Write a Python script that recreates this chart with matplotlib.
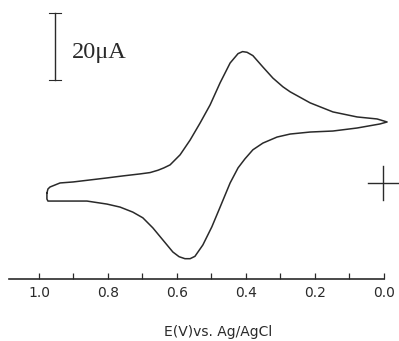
import matplotlib
matplotlib.use("Agg")
import matplotlib.pyplot as plt
import numpy as np

# cathodic sweep (upper branch), 0.98 V -> 0.0 V ; current in uA
E_fwd = [0.977, 0.974, 0.968, 0.939, 0.901, 0.852, 0.803, 0.757, 0.707, 0.678,
         0.655, 0.638, 0.620, 0.591, 0.562, 0.533, 0.504, 0.475, 0.446, 0.423,
         0.410, 0.397, 0.380, 0.351, 0.322, 0.293, 0.272, 0.214, 0.148, 0.078,
         0.020, -0.009]
I_fwd = [-3.0, -1.8, -1.2, 0.0, 0.3, 0.9, 1.5, 2.1, 2.7, 3.1,
         3.8, 4.5, 5.4, 8.4, 12.8, 17.9, 23.3, 29.9, 35.8, 38.6,
         39.2, 39.0, 38.0, 34.6, 31.3, 28.7, 27.2, 23.9, 21.2, 19.7,
         19.1, 18.2]

# anodic sweep (lower branch), 0.0 V -> 0.98 V
E_rev = [-0.009, 0.012, 0.078, 0.148, 0.214, 0.272, 0.310, 0.351, 0.380, 0.403,
         0.423, 0.446, 0.475, 0.499, 0.525, 0.548, 0.562, 0.577, 0.594, 0.612,
         0.641, 0.670, 0.699, 0.728, 0.765, 0.803, 0.861, 0.974, 0.977, 0.977]
I_rev = [18.2, 17.6, 16.4, 15.5, 15.2, 14.6, 13.7, 11.9, 9.9, 7.2,
         4.5, 0.0, -7.2, -13.1, -18.5, -21.9, -22.6, -22.6, -22.0, -20.6,
         -17.0, -13.4, -10.4, -8.7, -7.2, -6.3, -5.4, -5.4, -4.8, -3.0]

scale_uA = 20
scale_top = 50.7
scale_E = 0.954
major_ticks = [1.0, 0.8, 0.6, 0.4, 0.2, 0.0]
tick_labels = ["1.0", "0.8", "0.6", "0.4", "0.2", "0.0"]
minor_ticks = [0.9, 0.7, 0.5, 0.3, 0.1]

ink = "#2a2a2a"

fig = plt.figure(figsize=(3.99, 3.41), dpi=100)
ax = fig.add_axes([0, 62 / 341, 1, 279 / 341])

E = np.concatenate([E_fwd, E_rev])
I = np.concatenate([I_fwd, I_rev])
ax.plot(E, I, color=ink, lw=1.1, solid_joinstyle="round", solid_capstyle="round")

# 20 uA scale bar
ax.plot([scale_E, scale_E], [scale_top - scale_uA, scale_top], color=ink, lw=1.0)
for yy in (scale_top - scale_uA, scale_top):
    ax.plot([scale_E + 0.016, scale_E - 0.018], [yy, yy], color=ink, lw=0.8)
ax.text(0.905, 37.3, "20\u03bcA", family="Liberation Serif",
        fontsize=17.5, color=ink, va="baseline", ha="left")

# zero current cross
ax.plot([0.046, -0.043], [0, 0], color=ink, lw=1.0)
ax.plot([0.003, 0.003], [-5.1, 5.1], color=ink, lw=1.0)

ax.set_xlim(1.113, -0.0435)
ax.set_ylim(-28.66, 54.6)
for s in ["top", "left", "right"]:
    ax.spines[s].set_visible(False)
ax.spines["bottom"].set_bounds(1.087, 0.0)
ax.spines["bottom"].set_color(ink)
ax.spines["bottom"].set_linewidth(1.2)
ax.set_yticks([])
ax.set_xticks(major_ticks)
ax.set_xticklabels(tick_labels)
ax.set_xticks(minor_ticks, minor=True)
ax.tick_params(axis="x", which="both", direction="in", length=4, width=0.9,
               color=ink, labelsize=10, labelcolor=ink, pad=5)

fig.text(218 / 399, 2 / 341, "E(V)vs. Ag/AgCl", ha="center", va="bottom",
         fontsize=10, color=ink)

fig.savefig("out.png", dpi=100)
